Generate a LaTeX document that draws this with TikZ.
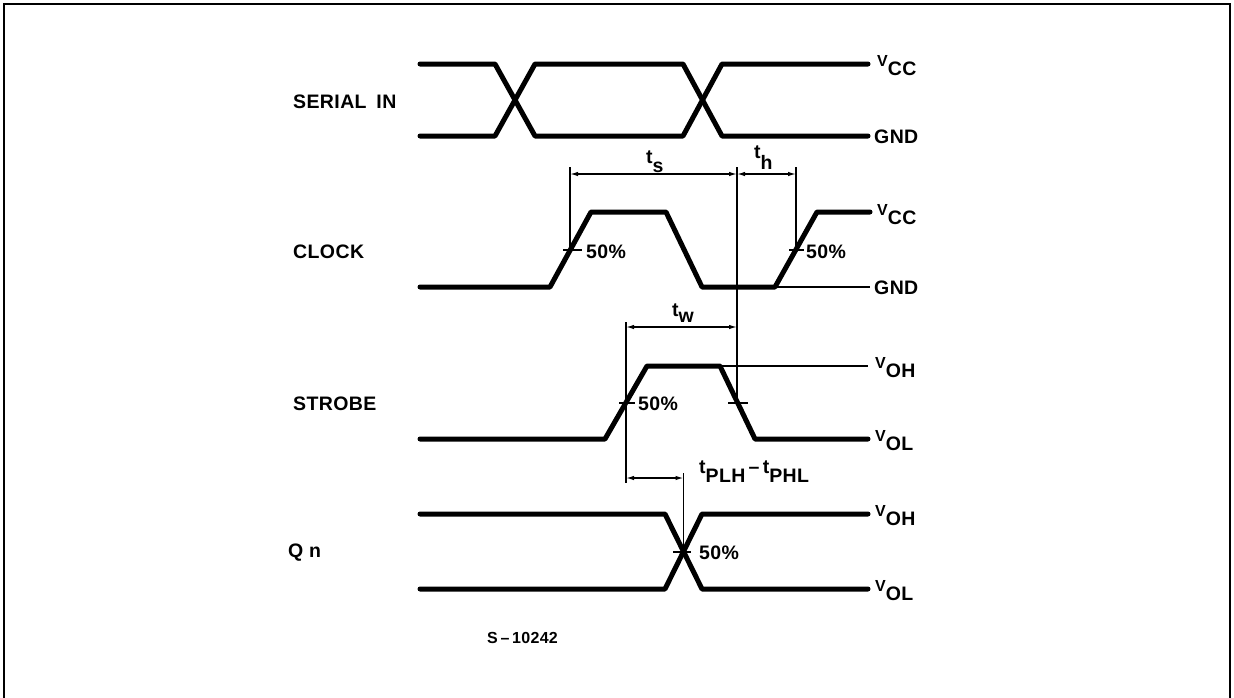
\documentclass[tikz,border=0pt]{standalone}
\usepackage{fontspec}
\setmainfont{Liberation Sans}[LetterSpace=2]
\usetikzlibrary{arrows.meta}
\newcommand\vlab[2]{{\fontsize{16}{16}\selectfont #1}\raisebox{-9pt}{#2}}
\newcommand\tlab[3]{t\raisebox{-#3pt}{#1}#2}
\begin{document}
\begin{tikzpicture}[x=1pt,y=-1pt,
  sig/.style={line width=5pt, line join=round, line cap=round},
  thinln/.style={line width=1.3pt},
  dimln/.style={line width=1.3pt,{Latex[length=8pt,width=4.5pt]}-{Latex[length=8pt,width=4.5pt]}},
  tickln/.style={line width=2pt},
  lbl/.style={font=\fontsize{19.5}{21}\selectfont\bfseries, inner sep=0pt, anchor=base west},
  ]
\useasboundingbox (0,0) rectangle (1234,697);
% frame
\draw[line width=2pt] (4,699) -- (4,4) -- (1230,4) -- (1230,699);

% ---------- SERIAL IN ----------
\draw[sig] (420,64) -- (495,64) -- (535,136) -- (683,136) -- (722,64) -- (868,64);
\draw[sig] (420,136) -- (495,136) -- (535,64) -- (683,64) -- (722,136) -- (868,136);
\node[lbl] (lserial) at (293,108) {SERIAL\hspace{4pt} IN};
\node[lbl] (vcc1) at (877,66) {\vlab{V}{CC}};
\node[lbl] (gnd1) at (874,143) {GND};

% ---------- CLOCK ----------
\draw[sig] (420,287) -- (550,287) -- (591,212) -- (666,212) -- (702,287) -- (775,287) -- (817,212) -- (870,212);
\draw[thinln] (775,287) -- (870,287);
\node[lbl] (lclock) at (293,258) {CLOCK};
\node[lbl] (vcc2) at (877,215) {\vlab{V}{CC}};
\node[lbl] (gnd2) at (874,294) {GND};

% ---------- STROBE ----------
\draw[sig] (420,439) -- (605,439) -- (647,366) -- (720,366) -- (755,439) -- (868,439);
\draw[thinln] (720,366) -- (868,366);
\node[lbl] (lstrobe) at (293,410) {STROBE};
\node[lbl] (voh1) at (875,368) {\vlab{V}{OH}};
\node[lbl] (vol1) at (875,441) {\vlab{V}{OL}};

% ---------- Qn ----------
\draw[sig] (420,514) -- (665,514) -- (702,589) -- (868,589);
\draw[sig] (420,589) -- (665,589) -- (702,514) -- (868,514);
\node[lbl] (lqn) at (288,557) {Q n};
\node[lbl] (voh2) at (875,516) {\vlab{V}{OH}};
\node[lbl] (vol2) at (875,591) {\vlab{V}{OL}};

% ---------- reference points ----------
\coordinate (c1) at (570,250);
\coordinate (c2) at (796,250);
\coordinate (s1) at (626,403);
\coordinate (s2) at (737,403);
\coordinate (q1) at (683.5,552);
\coordinate (c1t) at (570,167);
\coordinate (c2t) at (796,167);
\coordinate (s2t) at (737,167);
\coordinate (s1t) at (626,322);
\coordinate (s1b) at (626,483);
\coordinate (q1t) at (683.5,473);

% extension lines
\draw[thinln] (c1t) -- (c1);
\draw[thinln] (c2t) -- (c2);
\draw[thinln] (s2t) -- (s2);
\draw[thinln] (s1t) -- (s1b);
\draw[thinln] (q1t) -- (q1);

% dimension arrows
\draw[dimln] (570,174) -- (737,174);
\draw[dimln] (737,174) -- (796,174);
\draw[dimln] (626,327) -- (737,327);
\draw[dimln] (626,478) -- (683.5,478);

% 50% ticks
\draw[tickln] (563,250) -- (582,250);
\draw[tickln] (789,250) -- (804,250);
\draw[tickln] (619,403) -- (635,403);
\draw[tickln] (728,403) -- (748,403);
\draw[tickln] (673,552) -- (691,552);

\node[lbl] (p1) at (586,258) {50\%};
\node[lbl] (p2) at (806,258) {50\%};
\node[lbl] (p3) at (638,410) {50\%};
\node[lbl] (p4) at (699,559) {50\%};

% timing labels
\node[lbl] (ts) at (646,163) {\tlab{s}{}{9}};
\node[lbl] (th) at (754,158) {\tlab{h}{}{11}};
\node[lbl] (tw) at (672,316) {\tlab{w}{}{6}};
\node[lbl] (tp) at (699,473) {\tlab{PLH}{\,–\,\tlab{PHL}{}{9}}{9}};

\node[lbl,font=\fontsize{16}{18}\selectfont\bfseries] (ref) at (487,643) {S\,–\,10242};
\end{tikzpicture}
\end{document}
